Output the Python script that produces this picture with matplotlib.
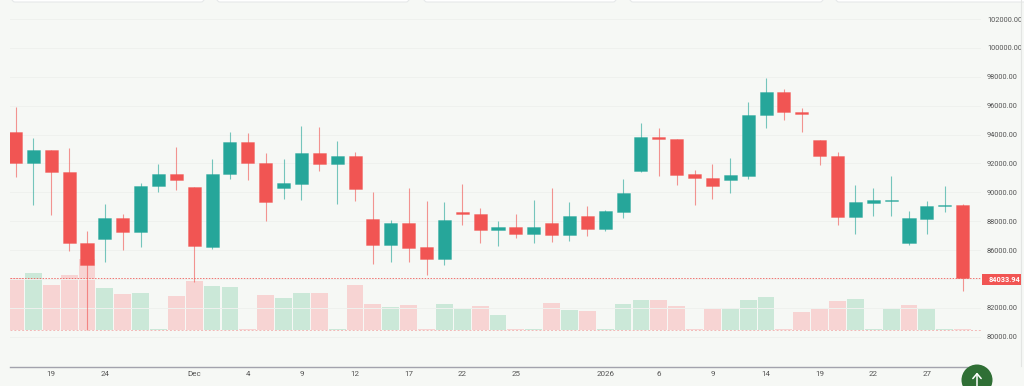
import matplotlib
matplotlib.use("Agg")
import matplotlib.pyplot as plt
from matplotlib.lines import Line2D
from matplotlib.patches import FancyBboxPatch, Circle, Rectangle
from matplotlib.colors import to_rgba

plt.rcParams['font.family'] = ['Roboto', 'DejaVu Sans']

highs = [95925, 93730, 92950, 93040, 87340, 89190, 88470, 90620, 91930, 93130, 90340, 92320, 94170, 94080, 92690, 92280, 94610, 94490, 93570,
         92760, 90040, 88100, 90320, 89390, 89320, 90550, 88890, 87990, 88520, 89460, 90320, 89320, 89050, 88770, 90890, 94790, 94430, 93720,
         91560, 91930, 92370, 96230, 97930, 97170, 95810, 93620, 92760, 90480, 90270, 91100, 88720, 89390, 90430, 89190]
tops = [94150, 92900, 92900, 91420, 86490, 88240, 88240, 90430, 91290, 91290, 90340, 91290, 93460, 93460, 92050, 90620, 92690, 92690, 92510,
        92510, 88150, 87850, 87850, 86190, 88060, 88610, 88520, 87570, 87590, 87590, 87850, 88380, 88380, 88680, 89920, 93850, 93850, 93710,
        91240, 90960, 91170, 95370, 96920, 96920, 95560, 93620, 92530, 89300, 89440, 89440, 88190, 89070, 89140, 89140]
bottoms = [92020, 92020, 91400, 86460, 84990, 86740, 87270, 87270, 90410, 90870, 86250, 86210, 91260, 92020, 89300, 90320, 90590, 91980, 91980,
           90220, 86320, 86320, 86140, 85380, 85380, 88470, 87360, 87360, 87090, 87090, 87040, 87040, 87450, 87450, 88660, 91450, 93690, 91220,
           90960, 90460, 90820, 91120, 95350, 95530, 95440, 92530, 88260, 88260, 89280, 89390, 86510, 88170, 89070, 84034]
lows = [91080, 89120, 88420, 85930, 80460, 85150, 86000, 86190, 90020, 90160, 83760, 86090, 90940, 90870, 88030, 89560, 89460, 91470, 89190,
        89420, 85050, 85150, 85190, 84290, 84990, 87730, 86460, 86300, 86810, 86490, 86580, 86650, 86970, 87320, 88220, 91430, 91120, 90500,
        89140, 89510, 89970, 90890, 94450, 95030, 94190, 91890, 87730, 87090, 88360, 88380, 86320, 87090, 88660, 83140]
up = [0, 1, 0, 0, 0, 1, 0, 1, 1, 0, 0, 1, 1, 0, 0, 1, 1, 0, 1,
      0, 0, 1, 0, 0, 1, 0, 0, 1, 0, 1, 0, 1, 0, 1, 1, 1, 0, 0,
      0, 0, 1, 1, 1, 0, 0, 0, 0, 1, 1, 1, 1, 1, 1, 0]
volumes = [155, 170, 135, 164, 214, 125, 108, 112, 4, 102, 147, 132, 129, 3, 106, 96, 112, 110, 3,
           135, 77, 69, 75, 3, 79, 63, 73, 44, 3, 3, 81, 60, 58, 3, 79, 90, 89, 73,
           2, 64, 67, 91, 100, 3, 54, 64, 87, 92, 3, 64, 75, 64, 3, 3]
vol_up = [0, 1, 0, 0, 0, 1, 0, 1, 1, 0, 0, 1, 1, 0, 0, 1, 1, 0, 1,
          0, 0, 1, 0, 0, 1, 1, 0, 1, 0, 1, 0, 1, 0, 1, 1, 1, 0, 0,
          0, 0, 1, 1, 1, 0, 0, 0, 0, 1, 1, 1, 0, 1, 1, 0]
tick_pos = [2, 5, 10, 13, 16, 19, 22, 25, 28, 33, 36, 39, 42, 45, 48, 51]
tick_labels = ['19', '24', 'Dec', '4', '9', '12', '17', '22', '25', '2026', '6', '9', '14', '19', '22', '27']
price_ticks = list(range(80000, 102001, 2000))
last_price = 84033.94

BG = '#f6f8f5'
RED, GREEN = '#f15553', '#26a69a'
W, H = 1024, 386
fig = plt.figure(figsize=(W / 100, H / 100), dpi=100, facecolor=BG)
ax_bottom_px = 366.6
rect = [10 / W, 1 - ax_bottom_px / H, 971 / W, ax_bottom_px / H]
vax = fig.add_axes(rect, facecolor=BG)
ax = fig.add_axes(rect, facecolor='none')

xlim = (-0.308, 54.03)
n = len(highs)
# volumes
vax.set_xlim(xlim)
vax.set_ylim(-110, 990)
vax.bar(range(n), volumes, width=0.94,
        color=['#cbe8d8' if u else '#f7d4d3' for u in vol_up],
        edgecolor='none', zorder=2)
vax.axhline(0, color='#f3b9b7', lw=0.7, ls=(0, (2, 2)), zorder=3)
vax.axis('off')

# candles
ax.set_xlim(xlim)
ax.set_ylim(77930, 103317)
ax.grid(axis='y', color='#eff1ee', lw=0.7, zorder=0)
for i in range(n):
    c = GREEN if up[i] else RED
    ax.vlines(i, lows[i], highs[i], color=c, lw=0.8, alpha=0.62, zorder=3)
    ax.bar(i, max(tops[i] - bottoms[i], 60), bottom=bottoms[i], width=0.73, color=c,
           edgecolor=to_rgba(c, 0.35), linewidth=0.7, zorder=4)
ax.axhline(last_price, color='#ef5350', lw=0.7, ls=(0, (1.5, 1.5)), alpha=0.8, zorder=5)

ax.set_xticks(tick_pos, tick_labels)
ax.set_yticks(price_ticks, [f'{v:.2f}' for v in price_ticks])
ax.yaxis.tick_right()
ax.tick_params(axis='x', length=0, pad=3.4, labelsize=5.8, labelcolor='#555555')
ax.tick_params(axis='y', length=0, pad=4.4, labelsize=5.3, labelcolor='#555555')
for s in ('top', 'left', 'right'):
    ax.spines[s].set_visible(False)
ax.spines['bottom'].set_color('#a3a3ad')
ax.spines['bottom'].set_linewidth(1.0)

def fx(px): return px / W
def fy(py): return 1 - py / H

fig.add_artist(Line2D([fx(1021)] * 2, [fy(0), fy(366)], color='#e3e5e3', lw=0.8))
for x0, x1 in [(12, 204), (217, 409), (424, 616), (630, 823), (836, 1030)]:
    fig.add_artist(FancyBboxPatch((x0 / W, fy(2)), (x1 - x0) / W, 12 / H,
                                  boxstyle='round,pad=0,rounding_size=0.003', transform=fig.transFigure,
                                  fc='white', ec='#e6e9ea', lw=0.8, mutation_aspect=2.6))

# overlay: last price tag and scroll-to-top button
btn = fig.add_axes([0, 0, 1, 1], facecolor='none')
btn.set_xlim(0, W); btn.set_ylim(H, 0); btn.axis('off')
btn.set_zorder(20)
btn.add_patch(Rectangle((982, 274), 39, 11, fc='#f15553', ec='none'))
btn.text(988.2, 279.5, f'{last_price:.2f}', va='center', ha='left', fontsize=5.3,
         color='white', fontweight='bold')
btn.add_patch(Circle((977, 380), 15.5, fc='#2f6f35', ec='none'))
btn.annotate('', xy=(977, 372.5), xytext=(977, 388), arrowprops=dict(arrowstyle='->,head_width=0.3,head_length=0.35', color='white', lw=1.1, shrinkA=0, shrinkB=0))

fig.savefig('out.png', dpi=100, facecolor=BG)
